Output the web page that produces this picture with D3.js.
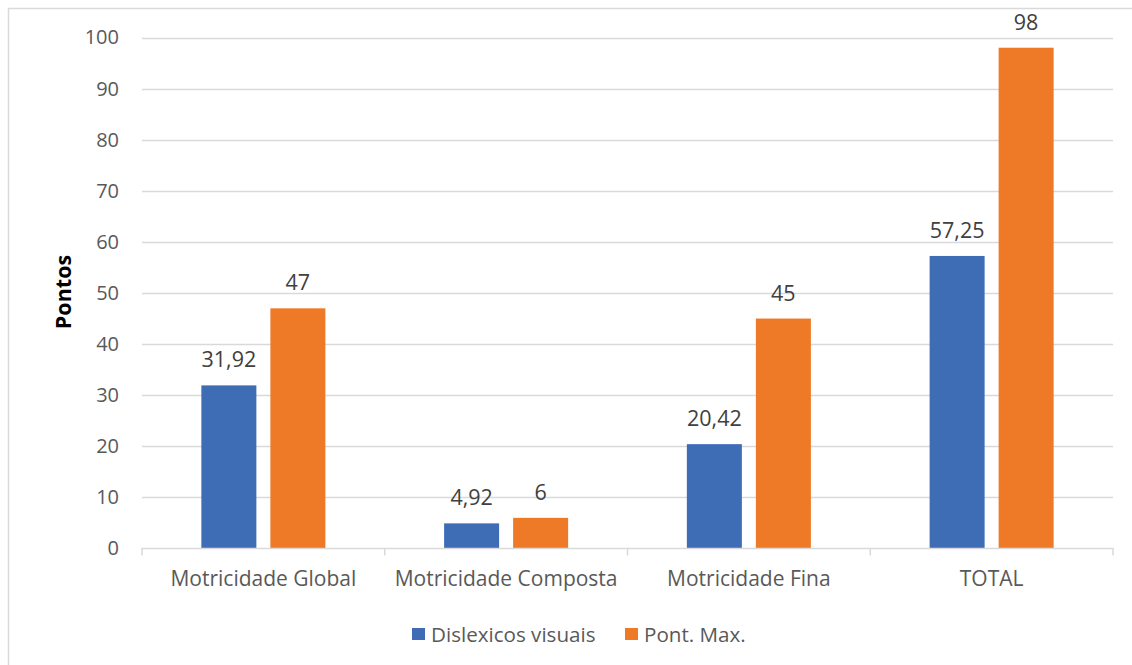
<!DOCTYPE html>
<html>
<head>
<meta charset="utf-8">
<script src="https://cdn.jsdelivr.net/npm/d3@7"></script>
<style>
  html, body { margin: 0; padding: 0; background: #fff; }
  svg { display: block; font-family: "Open Sans", "Noto Sans", sans-serif; }
</style>
</head>
<body>
<svg id="chart" width="1132" height="665"></svg>
<script>
// Chart data
const categories = ["Motricidade Global", "Motricidade Composta", "Motricidade Fina", "TOTAL"];
const seriesNames = ["Dislexicos visuais", "Pont. Max."];
const dislexicosVisuais = [31.92, 4.92, 20.42, 57.25];
const pontMax = [47, 6, 45, 98];
const yTicks = [0, 10, 20, 30, 40, 50, 60, 70, 80, 90, 100];
const colors = ["#3E6DB5", "#EE7A27"];

const seriesValues = [dislexicosVisuais, pontMax];
const rows = categories.map((c, i) => ({
  category: c,
  values: seriesNames.map((s, k) => ({ series: s, k, value: seriesValues[k][i] }))
}));

const svg = d3.select("#chart");
const plot = { left: 142, right: 1113, top: 37.5, bottom: 548.5 };

// Outer frame (top and left edges)
svg.append("path")
  .attr("d", "M8.5,665 V8.5 H1132")
  .attr("fill", "none")
  .attr("stroke", "#D9D9D9")
  .attr("stroke-width", 1.5);

const y = d3.scaleLinear().domain([0, 100]).range([plot.bottom, plot.top]);
const x = d3.scaleBand().domain(categories).range([plot.left, plot.right]).padding(0);
const xSub = d3.scaleBand().domain(seriesNames).range([0, x.bandwidth()])
  .paddingInner(0.203).paddingOuter(0.86);

// Gridlines
svg.append("g")
  .selectAll("line")
  .data(yTicks.filter(t => t > 0))
  .join("line")
  .attr("x1", plot.left).attr("x2", plot.right)
  .attr("y1", d => Math.round(y(d)) + 0.5).attr("y2", d => Math.round(y(d)) + 0.5)
  .attr("stroke", "#D9D9D9").attr("stroke-width", 1.5);

// Y axis labels
const yAxis = d3.axisLeft(y).tickValues(yTicks).tickSize(0).tickPadding(23).tickFormat(d3.format("d"));
const gy = svg.append("g").attr("transform", `translate(${plot.left},0)`).call(yAxis);
gy.select(".domain").remove();
gy.selectAll("text").attr("fill", "#595959").attr("font-size", 20).attr("font-family", "Open Sans");

// Y axis title
svg.append("text")
  .attr("transform", "translate(62,292) rotate(-90)")
  .attr("text-anchor", "middle")
  .attr("dominant-baseline", "central")
  .attr("font-weight", "bold")
  .attr("font-size", 21.5)
  .attr("fill", "#000")
  .text("Pontos");

// Bars
const groups = svg.append("g").selectAll("g")
  .data(rows)
  .join("g")
  .attr("transform", d => `translate(${x(d.category)},0)`);

groups.selectAll("rect")
  .data(d => d.values)
  .join("rect")
  .attr("x", d => xSub(d.series))
  .attr("width", xSub.bandwidth())
  .attr("y", d => y(d.value))
  .attr("height", d => y(0) - y(d.value))
  .attr("fill", d => colors[d.k]);

// Data labels
const fmt = v => (Number.isInteger(v) ? String(v) : v.toFixed(2).replace(".", ","));
groups.selectAll("text.val")
  .data(d => d.values)
  .join("text")
  .attr("class", "val")
  .attr("x", d => xSub(d.series) + xSub.bandwidth() / 2)
  .attr("y", d => y(d.value) - 18)
  .attr("text-anchor", "middle")
  .attr("font-size", 21.5)
  .attr("fill", "#404040")
  .text(d => fmt(d.value));

// X axis
const xAxis = d3.axisBottom(x).tickSize(0).tickPadding(23);
const gx = svg.append("g").attr("transform", `translate(0,${plot.bottom})`).call(xAxis);
gx.select(".domain").attr("stroke", "#D9D9D9").attr("stroke-width", 1.5)
  .attr("d", `M${plot.left},${7}V0H${plot.right}V${7}`);
gx.selectAll("text").attr("fill", "#595959").attr("font-size", 21).attr("font-family", "Open Sans");
// Category boundary ticks
gx.append("g").selectAll("line")
  .data(categories.slice(1))
  .join("line")
  .attr("x1", d => x(d)).attr("x2", d => x(d))
  .attr("y1", 0).attr("y2", 7)
  .attr("stroke", "#D9D9D9").attr("stroke-width", 1.5);

// Legend
const legend = svg.append("g").attr("transform", "translate(412,634)");
const legendX = [0, 213];
seriesNames.forEach((s, k) => {
  const g = legend.append("g").attr("transform", `translate(${legendX[k]},0)`);
  g.append("rect").attr("x", 0).attr("y", -6).attr("width", 13).attr("height", 12).attr("fill", colors[k]);
  g.append("text").attr("x", 19).attr("y", 0).attr("dominant-baseline", "central")
    .attr("font-size", 20.6).attr("fill", "#595959").text(s);
});
</script>
</body>
</html>
